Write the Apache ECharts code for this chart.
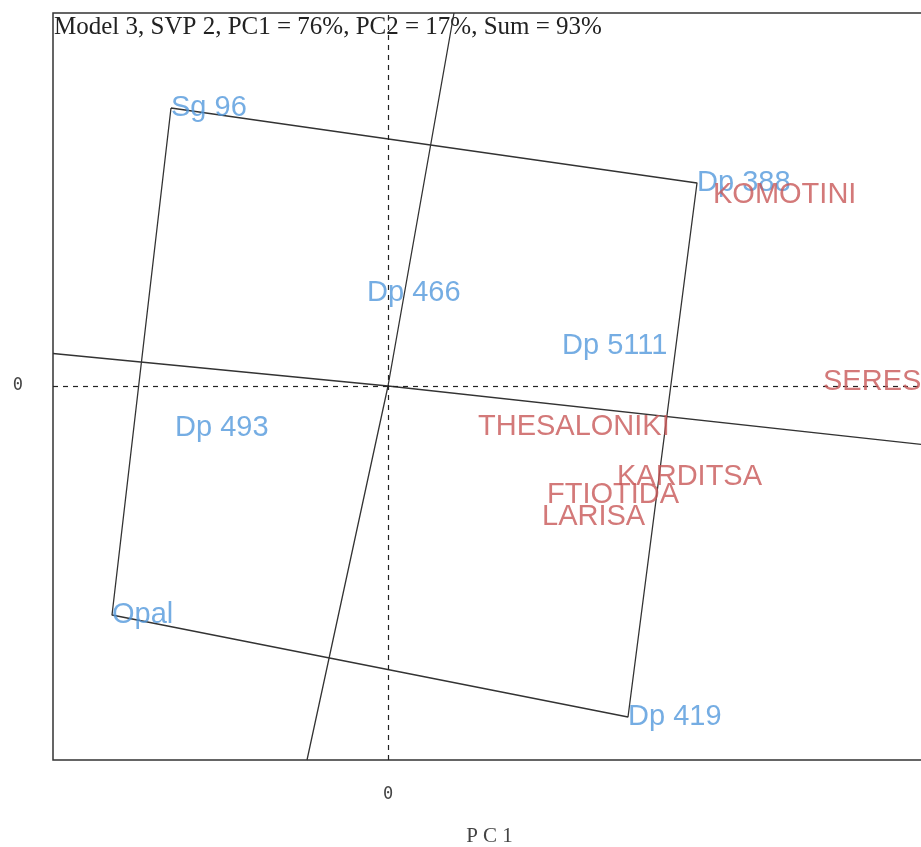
<!DOCTYPE html>
<html>
<head>
<meta charset="utf-8">
<script src="https://cdn.jsdelivr.net/npm/echarts@6/dist/echarts.min.js"></script>
<style>html,body{margin:0;padding:0;background:#fff}#c{width:921px;height:847px}</style>
</head>
<body>
<div id="c"></div>
<script>
// Genotypes (blue)
var genotypeNames = ['Sg 96', 'Dp 388', 'Dp 419', 'Opal', 'Dp 466', 'Dp 5111', 'Dp 493'];
var genotypePC1 = [-2.17, 3.09, 2.40, -2.76, -0.21, 1.74, -2.13];
var genotypePC2 = [2.78, 2.03, -3.31, -2.29, 0.93, 0.40, -0.42];
// Environments (red)
var envNames = ['KOMOTINI', 'SERES', 'THESALONIKI', 'KARDITSA', 'FTIOTIDA', 'LARISA'];
var envPC1 = [3.25, 4.35, 0.90, 2.29, 1.59, 1.54];
var envPC2 = [1.91, 0.04, -0.41, -0.91, -1.09, -1.31];
// Convex hull vertices (genotype names, in order)
var hullOrder = ['Sg 96', 'Dp 388', 'Dp 419', 'Opal', 'Sg 96'];
// Rays from origin (end points, PC1 / PC2)
var rayEndPC1 = [0.66, -0.81, -3.35, 5.38];
var rayEndPC2 = [3.73, -3.74, 0.325, -0.59];
// Axis tick labels
var tickLabels = [0];
var titleText = 'Model 3, SVP 2, PC1 = 76%, PC2 = 17%, Sum = 93%';

var BLUE = '#5298dc', RED = '#c85757', LINE = '#333333';

var hullData = hullOrder.map(function (n) {
  var i = genotypeNames.indexOf(n);
  return [genotypePC1[i], genotypePC2[i]];
});
var rayData = [];
rayEndPC1.forEach(function (x, i) {
  rayData.push([0, 0]); rayData.push([x, rayEndPC2[i]]); rayData.push(null);
});
rayData.pop();

var chart = echarts.init(document.getElementById('c'));
chart.setOption({
  animation: false,
  backgroundColor: '#fff',
  grid: { left: 53, top: 13, width: 873, height: 747, outerBoundsMode: 'none', containLabel: false,
          show: true, borderColor: '#333', borderWidth: 1.5, backgroundColor: 'transparent' },
  xAxis: {
    type: 'value', min: -3.35, max: 5.38,
    name: 'P C 1', nameLocation: 'middle', nameGap: 66,
    nameTextStyle: { fontFamily: 'Liberation Serif', fontSize: 21, color: '#444' },
    axisLine: { show: false }, axisTick: { show: false }, splitLine: { show: false },
    axisLabel: { customValues: tickLabels, margin: 26, fontFamily: 'DejaVu Sans Mono', fontSize: 17, color: '#444' }
  },
  yAxis: {
    type: 'value', min: -3.74, max: 3.73,
    axisLine: { show: false }, axisTick: { show: false }, splitLine: { show: false },
    axisLabel: { customValues: tickLabels, margin: 30, fontFamily: 'DejaVu Sans Mono', fontSize: 17, color: '#444' }
  },
  graphic: [
    { type: 'text', left: 54, top: 15, style: { text: titleText, font: '25px "Liberation Serif"', fill: '#222' } },
    { type: 'text', left: 2, top: -16, style: { text: 'P C 2', font: '19px "Liberation Serif"', fill: '#444' } }
  ],
  series: [
    {
      type: 'line', data: rayData, connectNulls: false, symbol: 'none', silent: true,
      lineStyle: { color: LINE, width: 1.3 }, z: 2,
      markLine: {
        silent: true, symbol: 'none', label: { show: false },
        lineStyle: { color: '#222', type: [5, 5], width: 1.2 },
        data: [{ xAxis: 0 }, { yAxis: 0 }]
      }
    },
    {
      type: 'line', data: hullData, symbol: 'none', silent: true,
      lineStyle: { color: LINE, width: 1.3 }, z: 2
    },
    {
      type: 'scatter', symbolSize: 0, z: 5,
      data: genotypeNames.map(function (n, i) { return { name: n, value: [genotypePC1[i], genotypePC2[i]] }; }),
      label: { show: true, position: 'right', distance: 0, formatter: '{b}', color: BLUE, fontFamily: 'Liberation Sans', fontSize: 29 }
    },
    {
      type: 'scatter', symbolSize: 0, z: 5,
      data: envNames.map(function (n, i) { return { name: n, value: [envPC1[i], envPC2[i]] }; }),
      label: { show: true, position: 'right', distance: 0, formatter: '{b}', color: RED, fontFamily: 'Liberation Sans', fontSize: 29 }
    }
  ]
});
</script>
</body>
</html>
